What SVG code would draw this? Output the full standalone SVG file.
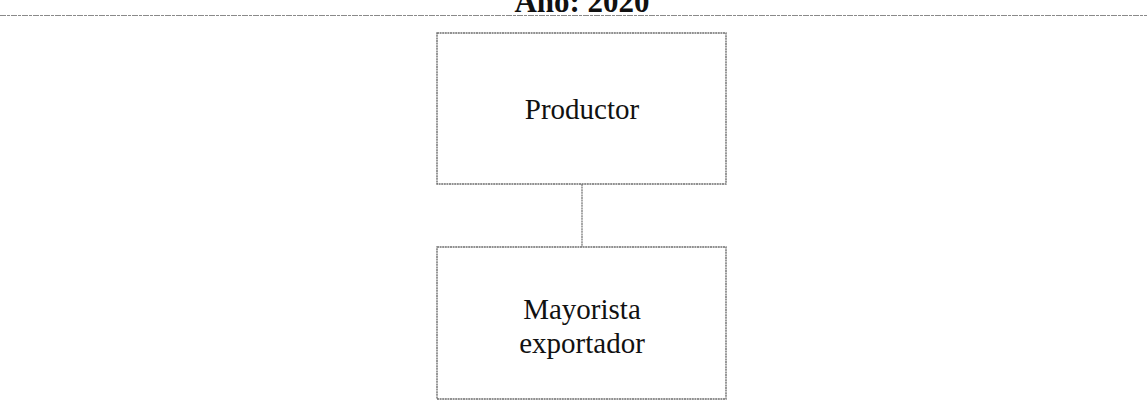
<svg xmlns="http://www.w3.org/2000/svg" width="1147" height="400" viewBox="0 0 1147 400">
<style>
.box{fill:#fff;stroke:#6e6e6e;stroke-width:1.4;stroke-dasharray:2 0.6}
.lbl{font-family:"Liberation Serif",serif;font-size:29px;fill:#111;text-anchor:middle}
.title{font-family:"Liberation Serif",serif;font-size:31px;font-weight:bold;fill:#111;text-anchor:middle}
.conn{stroke:#6e6e6e;stroke-width:1.2;stroke-dasharray:2 0.6;fill:none}
</style>
<rect width="1147" height="400" fill="#fff"/>
<text class="title" x="582" y="12">Año: 2020</text>
<line x1="0" y1="15.5" x2="1147" y2="15.5" stroke="#8a8a8a" stroke-width="1" stroke-dasharray="6 1 3 1"/>
<g id="connectors">
<line class="conn" x1="582" y1="184" x2="582" y2="247"/>
</g>
<g id="productor">
<rect class="box" x="437" y="33" width="289" height="151"/>
<text class="lbl" x="582" y="119">Productor</text>
</g>
<g id="mayorista">
<rect class="box" x="437" y="247" width="289" height="152"/>
<text class="lbl" x="582" y="319">Mayorista</text>
<text class="lbl" x="582" y="353">exportador</text>
</g>
</svg>
